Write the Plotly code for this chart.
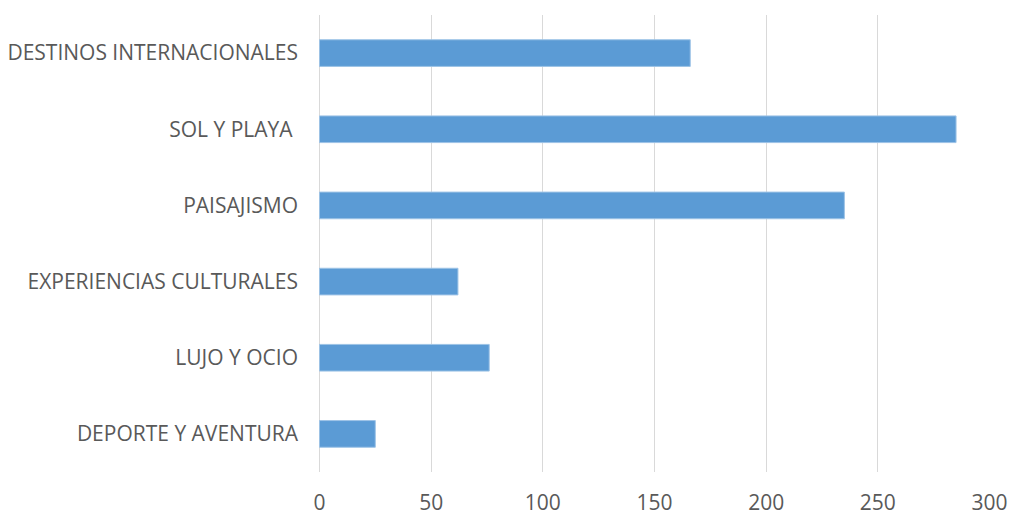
import plotly.graph_objects as go

categorias = [
    "DESTINOS INTERNACIONALES",
    "SOL Y PLAYA ",
    "PAISAJISMO",
    "EXPERIENCIAS CULTURALES",
    "LUJO Y OCIO",
    "DEPORTE Y AVENTURA",
]
valores = [166, 285, 235, 62, 76, 25]
ticks_x = [0, 50, 100, 150, 200, 250, 300]

fig = go.Figure(
    go.Bar(
        x=valores,
        y=categorias,
        orientation="h",
        width=0.35,
        marker=dict(color="#5B9BD5", line=dict(color="#9DC3E6", width=1)),
    )
)

fig.update_layout(
    width=1010,
    height=515,
    margin=dict(l=319, r=20, t=15, b=43),
    plot_bgcolor="white",
    paper_bgcolor="white",
    showlegend=False,
    font=dict(family="Open Sans, Liberation Sans, sans-serif", size=21, color="#595959"),
)

fig.update_xaxes(
    range=[-0.2, 300.2],
    tickvals=ticks_x,
    showgrid=True,
    gridcolor="#D9D9D9",
    gridwidth=1,
    zeroline=True,
    zerolinecolor="#D9D9D9",
    zerolinewidth=1,
    showline=False,
    ticklabelstandoff=16,
    automargin=False,
)

fig.update_yaxes(
    categoryorder="array",
    categoryarray=categorias[::-1],
    showgrid=False,
    showline=False,
    ticklabelstandoff=20,
    automargin=False,
)

# sin margen del body para que la figura empiece en (0, 0)
fig.write_html(
    "out.html",
    config={"displayModeBar": False},
    post_script="document.body.style.margin='0';",
)
